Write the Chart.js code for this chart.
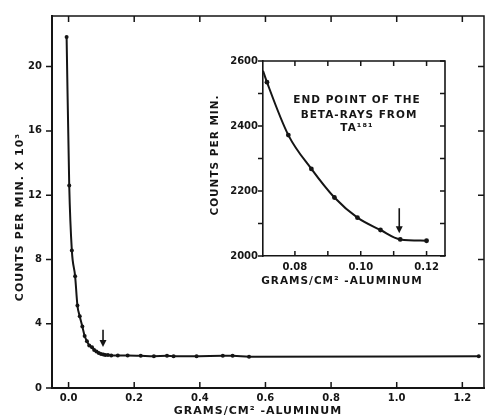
<!DOCTYPE html>
<html>
<head>
<meta charset="utf-8">
<script src="https://cdn.jsdelivr.net/npm/chart.js@4/dist/chart.umd.min.js"></script>
<style>
  html, body { margin: 0; padding: 0; background: #fff; }
  #wrap { position: relative; width: 492px; height: 420px; }
  #mainChart { display: block; }
  #insetChart { position: absolute; left: 205px; top: 50px; }
</style>
</head>
<body>
<div id="wrap">
  <canvas id="mainChart" width="492" height="420"></canvas>
  <canvas id="insetChart" width="245" height="240"></canvas>
</div>
<script>
// absorption curve: aluminum thickness (g/cm2) vs counts per min x 10^3
var thickness = [-0.006, 0.002, 0.010, 0.020, 0.027, 0.034, 0.042, 0.049, 0.056, 0.063,
  0.0715, 0.078, 0.085, 0.092, 0.099, 0.106, 0.112, 0.120,
  0.13, 0.15, 0.18, 0.22, 0.26, 0.30, 0.32, 0.39, 0.47, 0.50, 0.55, 1.25];
var counts = [21.84, 12.6, 8.55, 6.95, 5.13, 4.47, 3.82, 3.24, 2.91, 2.65,
  2.535, 2.372, 2.268, 2.18, 2.118, 2.08, 2.051, 2.047,
  2.03, 2.02, 2.02, 2.0, 1.98, 2.0, 1.98, 1.98, 2.0, 2.0, 1.95, 1.97];
var xTickValues = [0, 0.2, 0.4, 0.6, 0.8, 1.0, 1.2];
var yTickValues = [0, 4, 8, 12, 16, 20];

// inset: the end point region (first value is where the curve leaves the frame)
var insetThickness = [0.0703, 0.0715, 0.078, 0.085, 0.092, 0.099, 0.106, 0.112, 0.120];
var insetCounts = [2570, 2535, 2372, 2268, 2180, 2118, 2080, 2051, 2047];
var insetXTicks = [0.08, 0.09, 0.10, 0.11, 0.12];
var insetXLabels = ['0.08', '0.10', '0.12'];
var insetYTicks = [2000, 2100, 2200, 2300, 2400, 2500, 2600];
var insetYLabels = [2000, 2200, 2400, 2600];

var mainArrow = { x: 0.105, from: 3.62, to: 2.55 };
var insetArrow = { x: 0.1117, from: 2147, to: 2070 };
var noteLines = ['END POINT OF THE', 'BETA-RAYS FROM', 'TA\u00b9\u2078\u00b9'];

var INK = '#151515';
var FONT = "'DejaVu Sans', sans-serif";

function toPoints(xs, ys) {
  return xs.map(function (x, i) { return { x: x, y: ys[i] }; });
}

// top/right frame, tick marks, arrow, titles
var framePlugin = {
  id: 'frame',
  afterDraw: function (chart, args, opts) {
    var ctx = chart.ctx, a = chart.chartArea;
    var xs = chart.scales.x, ys = chart.scales.y;
    ctx.save();
    ctx.strokeStyle = INK;
    ctx.fillStyle = INK;
    ctx.lineWidth = opts.frameWidth;
    ctx.beginPath();
    ctx.moveTo(a.left, a.top);
    ctx.lineTo(a.right, a.top);
    ctx.lineTo(a.right, a.bottom);
    ctx.stroke();

    ctx.lineWidth = 1.5;
    ctx.beginPath();
    xs.ticks.forEach(function (t) {
      var px = xs.getPixelForValue(t.value);
      ctx.moveTo(px, a.bottom); ctx.lineTo(px, a.bottom - opts.tickLen);
      ctx.moveTo(px, a.top); ctx.lineTo(px, a.top + opts.tickLen);
    });
    ys.ticks.forEach(function (t) {
      var py = ys.getPixelForValue(t.value);
      ctx.moveTo(a.left, py); ctx.lineTo(a.left - opts.tickLen, py);
      ctx.moveTo(a.right, py); ctx.lineTo(a.right - opts.tickLen, py);
    });
    ctx.stroke();

    // arrow marking the end point
    var ar = opts.arrow;
    var ax = xs.getPixelForValue(ar.x);
    var y1 = ys.getPixelForValue(ar.from), y2 = ys.getPixelForValue(ar.to);
    ctx.lineWidth = 1.6;
    ctx.beginPath();
    ctx.moveTo(ax, y1); ctx.lineTo(ax, y2 - 5);
    ctx.stroke();
    ctx.beginPath();
    ctx.moveTo(ax - 3.5, y2 - 7); ctx.lineTo(ax + 3.5, y2 - 7); ctx.lineTo(ax, y2);
    ctx.closePath();
    ctx.fill();

    // lettering
    ctx.letterSpacing = '1px';
    ctx.textAlign = 'center';
    ctx.textBaseline = 'middle';
    opts.texts.forEach(function (t) {
      ctx.save();
      ctx.font = 'bold ' + t.size + 'px ' + FONT;
      ctx.translate(t.x, t.y);
      if (t.rot) ctx.rotate(t.rot);
      ctx.fillText(t.text, 0, 0);
      ctx.restore();
    });
    ctx.restore();
  }
};

new Chart(document.getElementById('mainChart'), {
  type: 'line',
  data: {
    datasets: [{
      data: toPoints(thickness, counts),
      borderColor: INK,
      borderWidth: 2,
      pointRadius: 2,
      pointBackgroundColor: INK,
      pointBorderWidth: 0,
      cubicInterpolationMode: 'monotone'
    }]
  },
  options: {
    responsive: false,
    animation: false,
    layout: { padding: { top: 11, right: 8, left: 0, bottom: 0 } },
    plugins: {
      legend: { display: false },
      tooltip: { enabled: false },
      frame: {
        frameWidth: 1.5,
        tickLen: 6,
        arrow: mainArrow,
        texts: [
          { text: 'GRAMS/CM\u00b2 -ALUMINUM', x: 258, y: 411, size: 11 },
          { text: 'COUNTS PER MIN. X 10\u00b3', x: 20, y: 217, size: 11, rot: -Math.PI / 2 }
        ]
      }
    },
    scales: {
      x: {
        type: 'linear',
        min: -0.0505,
        max: 1.266,
        grid: { display: false, drawTicks: false },
        border: { display: true, color: INK, width: 2 },
        ticks: {
          color: INK, padding: 4, font: { family: FONT, size: 10, weight: 'bold' },
          callback: function (v) { return v.toFixed(1); }
        },
        afterBuildTicks: function (s) { s.ticks = xTickValues.map(function (v) { return { value: v }; }); },
        afterFit: function (s) { s.height = 32; }
      },
      y: {
        min: 0,
        max: 23.15,
        grid: { display: false, drawTicks: false },
        border: { display: true, color: INK, width: 2 },
        ticks: { color: INK, padding: 10, font: { family: FONT, size: 10, weight: 'bold' } },
        afterBuildTicks: function (s) { s.ticks = yTickValues.map(function (v) { return { value: v }; }); },
        afterFit: function (s) { s.width = 52; }
      }
    }
  },
  plugins: [framePlugin]
});

new Chart(document.getElementById('insetChart'), {
  type: 'line',
  data: {
    datasets: [{
      data: toPoints(insetThickness, insetCounts),
      borderColor: INK,
      borderWidth: 2,
      pointRadius: insetCounts.map(function (v, i) { return i === 0 ? 0 : 2.4; }),
      pointBackgroundColor: INK,
      pointBorderWidth: 0,
      cubicInterpolationMode: 'monotone'
    }]
  },
  options: {
    responsive: false,
    animation: false,
    layout: { padding: { top: 11, right: 5, left: 0, bottom: 0 } },
    plugins: {
      legend: { display: false },
      tooltip: { enabled: false },
      frame: {
        frameWidth: 1.6,
        tickLen: 5,
        arrow: insetArrow,
        texts: [
          { text: 'GRAMS/CM\u00b2 -ALUMINUM', x: 137, y: 231, size: 10.5 },
          { text: 'COUNTS PER MIN.', x: 10, y: 105, size: 10.5, rot: -Math.PI / 2 },
          { text: noteLines[0], x: 152, y: 50, size: 10.5 },
          { text: noteLines[1], x: 154, y: 65, size: 10.5 },
          { text: noteLines[2], x: 152, y: 78, size: 10.5 }
        ]
      }
    },
    scales: {
      x: {
        type: 'linear',
        min: 0.0703,
        max: 0.1256,
        grid: { display: false, drawTicks: false },
        border: { display: true, color: INK, width: 1.6 },
        ticks: {
          color: INK, padding: 5, font: { family: FONT, size: 10, weight: 'bold' },
          callback: function (v) {
            var s = v.toFixed(2);
            return insetXLabels.indexOf(s) >= 0 ? s : '';
          }
        },
        afterBuildTicks: function (s) { s.ticks = insetXTicks.map(function (v) { return { value: v }; }); },
        afterFit: function (s) { s.height = 34; }
      },
      y: {
        min: 2000,
        max: 2600,
        grid: { display: false, drawTicks: false },
        border: { display: true, color: INK, width: 1.6 },
        ticks: {
          color: INK, padding: 5, font: { family: FONT, size: 10, weight: 'bold' },
          callback: function (v) { return insetYLabels.indexOf(v) >= 0 ? String(v) : ''; }
        },
        afterBuildTicks: function (s) { s.ticks = insetYTicks.map(function (v) { return { value: v }; }); },
        afterFit: function (s) { s.width = 58; }
      }
    }
  },
  plugins: [framePlugin]
});
</script>
</body>
</html>
